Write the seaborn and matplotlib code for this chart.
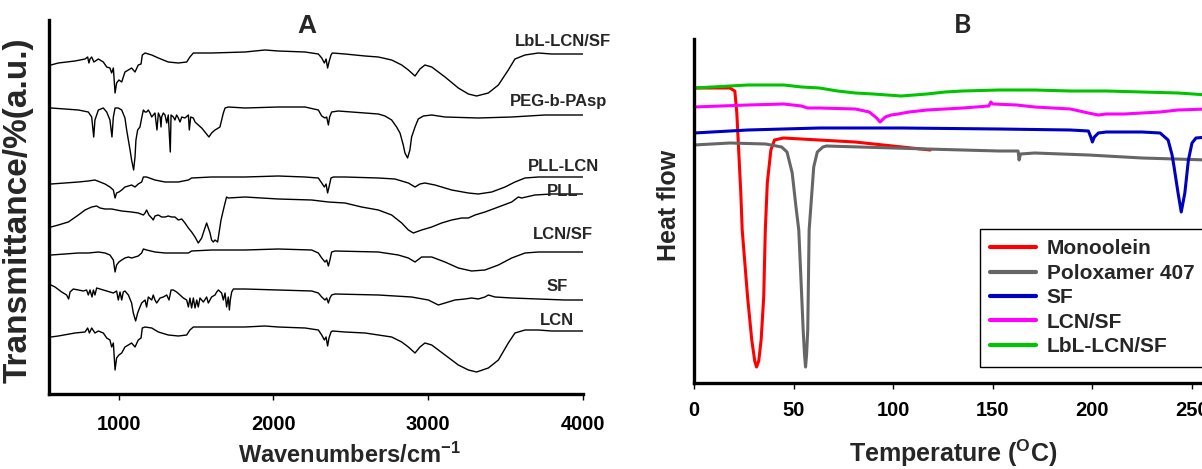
import matplotlib
matplotlib.use("Agg")
import matplotlib.pyplot as plt
import pandas as pd
import seaborn as sns

# ---------------- FTIR spectra (wavenumber cm-1, transmittance a.u.) ----------------
lbl_lcn_sf = [(550, 329), (563, 329), (610, 331), (718, 333), (783, 335), (800, 337), (808, 331), (815, 335),
              (826, 337), (840, 332), (869, 335), (901, 332), (923, 327), (944, 326), (955, 321), (966, 326),
              (977, 301), (987, 311), (1002, 314), (1020, 312), (1041, 322), (1063, 324), (1084, 326),
              (1106, 322), (1127, 329), (1145, 330), (1153, 339), (1171, 341), (1214, 339), (1257, 336),
              (1321, 332), (1386, 331), (1440, 332), (1461, 337), (1483, 341), (1601, 341), (1817, 342),
              (1946, 344), (2032, 343), (2205, 342), (2291, 340), (2313, 336), (2330, 331), (2341, 335),
              (2351, 326), (2360, 332), (2373, 339), (2382, 341), (2463, 340), (2593, 338), (2679, 337),
              (2765, 334), (2830, 329), (2873, 324), (2916, 318), (2948, 325), (2980, 329), (3024, 327),
              (3110, 317), (3196, 306), (3261, 300), (3314, 298), (3390, 301), (3455, 309), (3519, 324),
              (3562, 335), (3627, 339), (3713, 341), (3799, 340), (3885, 340), (4000, 340)]

peg_b_pasp = [(550, 286), (563, 286), (653, 285), (740, 284), (804, 282), (826, 277), (839, 257), (847, 274),
              (869, 284), (901, 286), (923, 282), (944, 274), (957, 257), (966, 277), (977, 286), (998, 286),
              (1020, 284), (1041, 276), (1052, 264), (1063, 254), (1074, 244), (1084, 234), (1097, 224),
              (1106, 237), (1112, 254), (1123, 264), (1138, 267), (1149, 276), (1160, 284), (1171, 282),
              (1181, 282), (1192, 284), (1203, 281), (1214, 277), (1224, 279), (1235, 281), (1248, 264),
              (1257, 281), (1268, 277), (1274, 267), (1278, 277), (1289, 281), (1300, 279), (1311, 271),
              (1321, 279), (1334, 242), (1339, 279), (1354, 277), (1364, 274), (1375, 279), (1386, 276),
              (1397, 272), (1408, 277), (1429, 276), (1451, 279), (1457, 264), (1466, 277), (1483, 276),
              (1494, 272), (1515, 269), (1537, 266), (1558, 262), (1584, 257), (1601, 261), (1623, 264),
              (1645, 266), (1655, 267), (1666, 274), (1677, 281), (1688, 286), (1709, 287), (1817, 286),
              (2032, 287), (2205, 287), (2291, 284), (2313, 278), (2334, 276), (2345, 277), (2356, 269),
              (2364, 277), (2377, 282), (2420, 283), (2593, 281), (2679, 280), (2722, 278), (2765, 274),
              (2797, 267), (2819, 261), (2840, 249), (2851, 241), (2868, 236), (2883, 244), (2894, 257),
              (2916, 267), (2937, 275), (2970, 278), (3024, 279), (3110, 277), (3325, 276), (3541, 277),
              (3756, 279), (3885, 279), (4000, 279)]

pll_lcn = [(550, 210), (563, 210), (653, 211), (740, 212), (804, 213), (847, 214), (880, 212), (912, 210),
           (944, 207), (966, 204), (977, 196), (987, 201), (1002, 202), (1020, 204), (1041, 207), (1063, 208),
           (1084, 209), (1106, 207), (1127, 210), (1149, 212), (1160, 217), (1181, 217), (1235, 214),
           (1300, 212), (1386, 212), (1451, 214), (1472, 216), (1601, 217), (1817, 217), (2032, 218),
           (2205, 217), (2291, 216), (2313, 211), (2330, 207), (2341, 210), (2351, 201), (2360, 207),
           (2373, 216), (2388, 217), (2463, 217), (2679, 216), (2786, 215), (2873, 211), (2916, 207),
           (2948, 210), (2980, 211), (3045, 209), (3153, 204), (3261, 201), (3325, 200), (3412, 202),
           (3498, 207), (3562, 212), (3627, 216), (3713, 217), (3885, 217), (4000, 217)]

pll = [(550, 167), (563, 167), (610, 169), (675, 172), (740, 179), (783, 184), (826, 187), (858, 188),
       (880, 186), (912, 185), (955, 185), (1020, 183), (1084, 182), (1127, 181), (1160, 179), (1171, 181),
       (1181, 184), (1196, 179), (1214, 176), (1224, 174), (1235, 178), (1257, 179), (1278, 177), (1300, 177),
       (1321, 178), (1343, 177), (1364, 177), (1386, 174), (1408, 175), (1429, 171), (1451, 166), (1472, 162),
       (1494, 157), (1515, 151), (1537, 156), (1558, 166), (1569, 171), (1580, 166), (1591, 161), (1601, 154),
       (1612, 152), (1623, 154), (1640, 152), (1649, 161), (1662, 174), (1677, 184), (1688, 191), (1698, 197),
       (1709, 196), (1817, 197), (2032, 195), (2248, 194), (2356, 192), (2463, 191), (2571, 187), (2679, 184),
       (2765, 179), (2830, 171), (2873, 164), (2905, 161), (2959, 164), (3024, 167), (3088, 171), (3153, 174),
       (3218, 176), (3261, 176), (3304, 179), (3368, 182), (3455, 187), (3541, 192), (3584, 197), (3605, 196),
       (3691, 199), (3799, 200), (3885, 200), (4000, 200)]

lcn_sf_ir = [(550, 139), (563, 139), (653, 140), (740, 141), (804, 141), (869, 142), (912, 141), (944, 139),
             (966, 134), (977, 122), (987, 129), (1002, 132), (1020, 134), (1041, 136), (1063, 137), (1084, 136),
             (1106, 137), (1127, 138), (1149, 141), (1160, 145), (1181, 144), (1235, 142), (1300, 141),
             (1386, 141), (1451, 141), (1472, 143), (1601, 144), (1817, 144), (2032, 145), (2248, 144),
             (2291, 141), (2313, 136), (2334, 132), (2345, 134), (2356, 128), (2366, 134), (2377, 142),
             (2399, 143), (2679, 142), (2808, 139), (2873, 136), (2916, 132), (2959, 137), (3024, 137),
             (3110, 132), (3196, 126), (3282, 123), (3368, 124), (3455, 129), (3541, 136), (3627, 141),
             (3713, 142), (3885, 142), (4000, 142)]

sf_ir = [(550, 110), (563, 109), (589, 107), (632, 102), (664, 99), (677, 95), (686, 102), (707, 105), (740, 104),
         (772, 103), (793, 104), (804, 99), (815, 104), (828, 97), (837, 104), (847, 99), (858, 106), (880, 105),
         (901, 104), (923, 103), (944, 102), (966, 101), (987, 103), (998, 94), (1009, 102), (1020, 94),
         (1030, 102), (1041, 103), (1063, 99), (1084, 91), (1095, 81), (1110, 73), (1123, 81), (1138, 87),
         (1149, 91), (1171, 94), (1181, 87), (1192, 97), (1214, 94), (1224, 99), (1235, 94), (1246, 91),
         (1268, 96), (1289, 97), (1311, 99), (1326, 94), (1339, 104), (1354, 104), (1375, 102), (1397, 99),
         (1418, 96), (1440, 94), (1451, 87), (1461, 96), (1472, 86), (1483, 96), (1494, 86), (1505, 94),
         (1515, 87), (1526, 96), (1548, 92), (1569, 97), (1580, 91), (1601, 97), (1623, 99), (1634, 102),
         (1645, 104), (1666, 101), (1677, 94), (1688, 101), (1698, 87), (1709, 97), (1716, 84), (1722, 94),
         (1731, 102), (1742, 105), (1817, 105), (2032, 104), (2248, 103), (2291, 101), (2313, 97), (2334, 94),
         (2345, 96), (2356, 91), (2366, 96), (2377, 99), (2399, 100), (2679, 99), (2894, 97), (3002, 94),
         (3067, 89), (3110, 91), (3174, 94), (3239, 95), (3282, 96), (3325, 95), (3368, 97), (3390, 99),
         (3433, 97), (3541, 96), (3713, 95), (3885, 94), (4000, 94)]

lcn_ir = [(550, 57), (563, 57), (610, 58), (718, 61), (783, 62), (800, 66), (811, 61), (826, 66), (847, 61),
          (869, 63), (901, 61), (923, 56), (944, 54), (955, 47), (966, 51), (977, 24), (987, 36), (1002, 39),
          (1020, 41), (1041, 47), (1063, 49), (1084, 51), (1106, 47), (1127, 54), (1145, 56), (1153, 66),
          (1171, 67), (1214, 66), (1257, 62), (1321, 59), (1386, 58), (1440, 59), (1461, 64), (1483, 67),
          (1601, 67), (1817, 67), (1946, 68), (2032, 67), (2205, 66), (2291, 64), (2313, 59), (2330, 54),
          (2341, 57), (2351, 48), (2360, 56), (2373, 62), (2382, 63), (2463, 62), (2593, 61), (2679, 59),
          (2765, 57), (2830, 52), (2873, 47), (2916, 41), (2948, 47), (2980, 51), (3024, 49), (3110, 39),
          (3196, 29), (3261, 24), (3314, 22), (3390, 26), (3455, 34), (3519, 51), (3562, 61), (3627, 64),
          (3713, 64), (3799, 63), (3885, 63), (4000, 63)]

spectra_names = ["LbL-LCN/SF", "PEG-b-PAsp", "PLL-LCN", "PLL", "LCN/SF", "SF", "LCN"]
spectra = [lbl_lcn_sf, peg_b_pasp, pll_lcn, pll, lcn_sf_ir, sf_ir, lcn_ir]
wavenumber_ticks = [1000, 2000, 3000, 4000]

# ---------------- DSC thermograms (temperature degC, heat flow a.u.) ----------------
monoolein = [(0, 295), (18, 295), (20.5, 292), (21.5, 270), (22.5, 230), (23.5, 190), (24.2, 153), (26.9, 86),
             (29, 43), (30.5, 22), (31.4, 16), (32.5, 22), (33.7, 43), (35, 86), (35.8, 153), (36.8, 200),
             (38.6, 233), (40.4, 243), (44.9, 245), (80.8, 241), (118.6, 233)]
poloxamer_407 = [(0, 238), (18, 240), (36, 239), (44, 236), (46.7, 231), (49.3, 210), (51.2, 176), (52.6, 153),
                 (54, 90), (54.8, 53), (55.5, 28), (56, 16), (56.5, 28), (57.1, 53), (57.8, 153), (58.9, 183),
                 (60.1, 216), (61.9, 231), (64.7, 236), (66.5, 237), (116.8, 234), (153, 232), (162.7, 232),
                 (163.2, 223), (163.9, 229), (171, 230), (198, 228), (225, 225), (258, 223)]
sf_dsc = [(0, 250), (27, 253), (63, 255), (104, 255), (153, 254), (189, 253), (198, 252), (199.2, 246),
          (200, 241), (201, 246), (203, 250), (207, 251), (225, 251), (234, 250), (238, 243), (240, 228),
          (241, 216), (243, 190), (244.6, 171), (246.4, 190), (248.2, 223), (250, 240), (252, 245), (258, 246)]
lcn_sf_dsc = [(0, 276), (27, 278), (45, 279), (54, 277), (57, 275), (63, 275), (81, 274), (88, 271),
              (91.7, 265), (93.4, 261), (96, 266), (99, 268), (102.5, 269), (108, 271), (117, 273), (135, 275),
              (148, 277), (149, 281), (150, 279), (162, 278), (171, 276), (180, 275), (189, 274), (198, 270),
              (203, 268), (207, 269), (216, 269), (225, 270), (234, 271), (243, 273), (258, 274)]
lbl_lcn_sf_dsc = [(0, 295), (27, 298), (45, 298), (54, 296), (63, 295), (72, 292), (81, 290), (90, 289),
                  (104, 287), (117, 289), (126, 291), (135, 292), (153, 293), (171, 293), (189, 292), (207, 292),
                  (225, 291), (243, 290), (258, 288)]

dsc_names = ["Monoolein", "Poloxamer 407", "SF", "LCN/SF", "LbL-LCN/SF"]
dsc_curves = [monoolein, poloxamer_407, sf_dsc, lcn_sf_dsc, lbl_lcn_sf_dsc]
dsc_colors = ["#FF0000", "#666666", "#0000C0", "#FF00FF", "#00C400"]
temperature_ticks = [0, 50, 100, 150, 200, 250, 300]

# ---------------- style ----------------
sns.set_theme(style="ticks")
plt.rcParams["font.family"] = ["Liberation Sans", "DejaVu Sans"]
plt.rcParams["font.weight"] = "bold"
plt.rcParams["mathtext.fontset"] = "custom"
plt.rcParams["mathtext.rm"] = "Liberation Sans:bold"
plt.rcParams["mathtext.it"] = "Liberation Sans:bold"
plt.rcParams["mathtext.bf"] = "Liberation Sans:bold"
plt.rcParams["mathtext.default"] = "rm"

W, H = 1202, 469
fig = plt.figure(figsize=(W / 100, H / 100), dpi=100)

def style_axes(ax):
    for side in ("top", "right"):
        ax.spines[side].set_visible(False)
    for side in ("left", "bottom"):
        ax.spines[side].set_linewidth(2.4)
        ax.spines[side].set_color("black")
    ax.set_yticks([])
    ax.tick_params(axis="x", direction="out", length=4, width=1.0, color="black",
                   labelsize=14.5, labelcolor="black")
    for lab in ax.get_xticklabels():
        lab.set_fontweight("bold")

# ---------------- panel A: FTIR ----------------
axA = fig.add_axes([49 / W, 1 - 394 / H, 533.7 / W, 374 / H])
for name, pts in zip(spectra_names, spectra):
    df = pd.DataFrame(pts, columns=["wavenumber", "transmittance"])
    sns.lineplot(data=df, x="wavenumber", y="transmittance", ax=axA, color="black",
                 linewidth=1.0, sort=False, estimator=None, legend=False)
axA.set_xlim(550, 4000)
axA.set_ylim(0, 374)
axA.set_xticks(wavenumber_ticks)
style_axes(axA)
axA.tick_params(axis="x", pad=11)

label_spots = {"LbL-LCN/SF": (3562, 353), "PEG-b-PAsp": (3530, 293), "PLL-LCN": (3646, 228),
               "PLL": (3769, 203), "LCN/SF": (3679, 160), "SF": (3769, 108), "LCN": (3724, 74)}
for name in spectra_names:
    x, y = label_spots[name]
    axA.text(x, y, name, ha="left", va="center", fontsize=12, fontweight="bold", clip_on=False)

axA.set_xlabel("Wavenumbers/cm$^{-1}$", fontsize=17, fontweight="bold")
axA.xaxis.label.set_va("center")
axA.xaxis.set_label_coords(0.563, -0.163)
axA.set_ylabel("Transmittance/%(a.u.)", fontsize=24, fontweight="bold")
axA.yaxis.label.set_va("center")
axA.yaxis.set_label_coords(-0.058, 0.492)
axA.text(0.4834, 0.983, "A", transform=axA.transAxes, ha="center", va="center",
         fontsize=19, fontweight="bold")

# ---------------- panel B: DSC ----------------
px_per_degree = 1.992
axB = fig.add_axes([694 / W, 1 - 383 / H, 300 * px_per_degree / W, 344 / H])
rows = []
for name, pts in zip(dsc_names, dsc_curves):
    for t, hf in pts:
        rows.append({"Temperature": t, "Heat flow": hf, "Sample": name})
dsc = pd.DataFrame(rows)
sns.lineplot(data=dsc, x="Temperature", y="Heat flow", hue="Sample", hue_order=dsc_names,
             palette=dsc_colors, linewidth=2.2, sort=False, estimator=None, ax=axB)
axB.set_xlim(0, 300)
axB.set_ylim(0, 344)
axB.set_xticks(temperature_ticks)
style_axes(axB)
axB.tick_params(axis="x", pad=9)

old = axB.get_legend()
handles = list(old.legend_handles)
labels = [t.get_text() for t in old.get_texts()]
old.remove()
for h in handles:
    h.set_linewidth(3)
leg = axB.legend(handles, labels, loc="upper left", bbox_to_anchor=(980 / W, 1 - 229 / H),
                 bbox_transform=fig.transFigure, borderaxespad=0, frameon=True, fancybox=False,
                 framealpha=1, edgecolor="black", handlelength=2.2, handletextpad=0.5,
                 labelspacing=0.26, borderpad=0.5, prop={"size": 15, "weight": "bold"})
leg.get_frame().set_linewidth(1.0)

axB.set_xlabel("Temperature ($^{O}$C)", fontsize=18, fontweight="bold")
axB.xaxis.label.set_va("center")
axB.xaxis.set_label_coords(0.4334, -0.2035)
axB.set_ylabel("Heat flow", fontsize=18, fontweight="bold")
axB.yaxis.label.set_va("center")
axB.yaxis.set_label_coords(-0.0418, 0.517)
axB.text(0.450, 1.041, "B", transform=axB.transAxes, ha="center", va="center",
         fontsize=19, fontweight="bold", family=["Lato", "DejaVu Sans"])

fig.savefig("out.png", dpi=100)
